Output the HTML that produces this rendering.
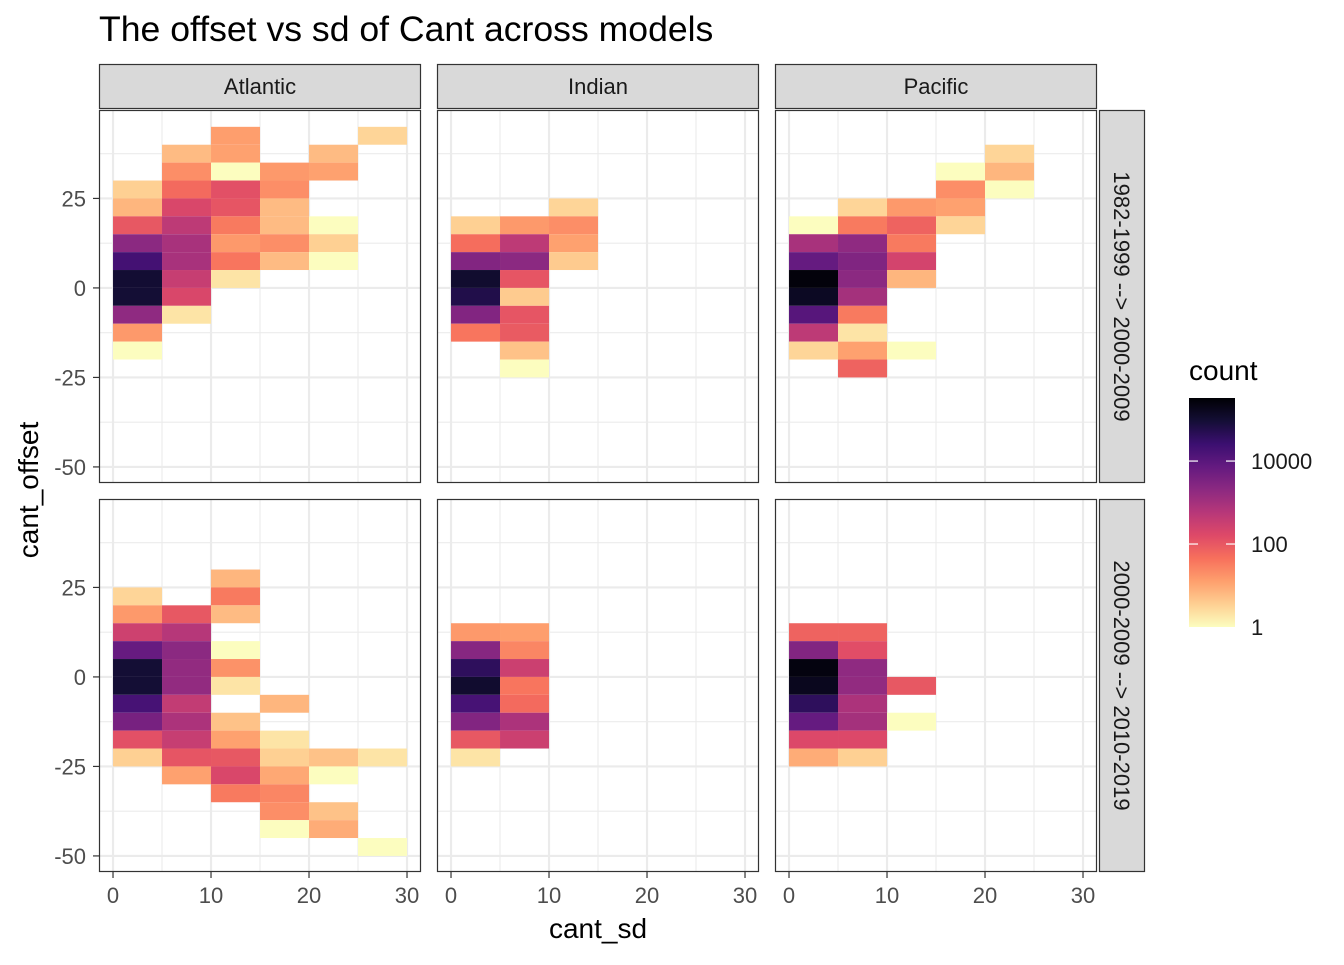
<!DOCTYPE html>
<html><head><meta charset="utf-8"><style>
body{margin:0;background:#fff;}
svg text{font-family:"Liberation Sans",sans-serif;}
</style></head><body>
<svg id="chart" width="1344" height="960" viewBox="0 0 1344 960" xmlns="http://www.w3.org/2000/svg">
<rect width="1344" height="960" fill="#fff"/>
<text x="99" y="41" font-size="35.6" fill="#000">The offset vs sd of Cant across models</text>
<g id="panels"></g>
<text x="598" y="938" font-size="28" text-anchor="middle" fill="#000">cant_sd</text>
<text transform="translate(38,490) rotate(-90)" font-size="28" text-anchor="middle" fill="#000">cant_offset</text>
<g>
<text x="1189" y="380" font-size="28" fill="#000">count</text>
<defs><linearGradient id="lg" x1="0" y1="1" x2="0" y2="0"></linearGradient></defs>
<rect id="legbar" x="1189" y="398" width="46" height="229" fill="url(#lg)"/>
<g id="legticks"></g>
</g>
</svg>
<script>
const colNames = ["Atlantic","Indian","Pacific"];
const rowNames = ["1982-1999 --> 2000-2009","2000-2009 --> 2010-2019"];
const xTicks = [0,10,20,30];
const yTicks = [-50,-25,0,25];
const legendBreaks = [1,100,10000];
const legendLabels = ["1","100","10000"];
const logMax = 5.52;
const binW = 5, binH = 5;
// each cell: [sd bin start, offset bin start, count]
const atlanticTop = [[10,40,13],[25,40,3],[5,35,6],[10,35,12],[20,35,6],[5,30,20],[10,30,1],[15,30,15],[20,30,12],
[0,25,3.5],[5,25,55],[10,25,130],[15,25,20],[0,20,7],[5,20,190],[10,20,110],[15,20,6],
[0,15,100],[5,15,470],[10,15,35],[15,15,6],[20,15,1],[0,10,2100],[5,10,900],[10,10,15],[15,10,20],[20,10,3.5],
[0,5,20000],[5,5,900],[10,5,40],[15,5,6],[20,5,1],[0,0,100000],[5,0,350],[10,0,2],[0,-5,95000],[5,-5,190],
[0,-10,1900],[5,-10,2],[0,-15,15],[0,-20,1]];
const indianTop = [[10,20,3],[0,15,3.5],[5,15,15],[10,15,20],[0,10,50],[5,10,470],[10,10,12],[0,5,2800],[5,5,2100],[10,5,4],
[0,0,110000],[5,0,110],[0,-5,60000],[5,-5,4],[0,-10,2800],[5,-10,110],[0,-15,40],[5,-15,90],[5,-20,5],[5,-25,1]];
const pacificTop = [[20,35,3],[15,30,1],[20,30,7],[15,25,20],[20,25,1],[5,20,3],[10,20,15],[15,20,12],
[0,15,1],[5,15,35],[10,15,70],[15,15,3],[0,10,900],[5,10,1900],[10,10,35],[0,5,7000],[5,5,3000],[10,5,230],
[0,0,280000],[5,0,2100],[10,0,7],[0,-5,150000],[5,-5,1000],[0,-10,11000],[5,-10,35],[0,-15,470],[5,-15,2],
[0,-20,3],[5,-20,12],[10,-20,1],[5,-25,70]];
const atlanticBottom = [[10,25,7],[0,20,3],[10,20,35],[0,15,15],[5,15,100],[10,15,6],[0,10,280],[5,10,600],
[0,5,6700],[5,5,2100],[10,5,1],[0,0,95000],[5,0,1700],[10,0,18],[0,-5,95000],[5,-5,1700],[10,-5,2],
[0,-10,18000],[5,-10,400],[15,-10,7],[0,-15,4000],[5,-15,800],[10,-15,5],[0,-20,130],[5,-20,350],[10,-20,12],[15,-20,2],
[0,-25,3.5],[5,-25,110],[10,-25,100],[15,-25,3.5],[20,-25,5],[25,-25,2],[5,-30,12],[10,-30,190],[15,-30,10],[20,-30,1],
[10,-35,35],[15,-35,25],[15,-40,20],[20,-40,5],[15,-45,1],[20,-45,9],[25,-50,1]];
const indianBottom = [[0,10,15],[5,10,13],[0,5,2400],[5,5,25],[0,0,40000],[5,0,300],[0,-5,110000],[5,-5,40],
[0,-10,18000],[5,-10,55],[0,-15,2800],[5,-15,800],[0,-20,100],[5,-20,300],[0,-25,2]];
const pacificBottom = [[0,10,70],[5,10,70],[0,5,2800],[5,5,140],[0,0,250000],[5,0,1900],[0,-5,170000],[5,-5,1700],[10,-5,100],
[0,-10,40000],[5,-10,800],[0,-15,7000],[5,-15,1000],[10,-15,1],[0,-20,170],[5,-20,170],[0,-25,9],[5,-25,3.5]];
const panelData = [[atlanticTop,indianTop,pacificTop],[atlanticBottom,indianBottom,pacificBottom]];

const magma = ["#000004","#140e36","#3b0f70","#641a80","#8c2981","#b73779","#de4968","#f7705c","#fe9f6d","#fecf92","#fcfdbf"];
function hex2rgb(h){return [parseInt(h.substr(1,2),16),parseInt(h.substr(3,2),16),parseInt(h.substr(5,2),16)];}
function magmaAt(t){t=Math.max(0,Math.min(1,t));const p=t*10,i=Math.min(9,Math.floor(p)),f=p-i;
const a=hex2rgb(magma[i]),b=hex2rgb(magma[i+1]);return "rgb("+a.map((v,k)=>Math.round(v+(b[k]-v)*f)).join(",")+")";}
function colorFor(n){return magmaAt(1-Math.log10(Math.max(1,n))/logMax);}

const NS="http://www.w3.org/2000/svg";
const colLeft=[99,437,775], panelW=322, rowTop=[110,499], panelH=373;
const xMin=-1.43, xPx=9.8, yMax=49.7, yPx=3.58;
function xs(c,v){return colLeft[c]+(v-xMin)*xPx;}
function ys(r,v){return rowTop[r]+(yMax-v)*yPx;}
function mk(tag,attrs,parent){const e=document.createElementNS(NS,tag);for(const k in attrs)e.setAttribute(k,attrs[k]);parent.appendChild(e);return e;}
const root=document.getElementById("panels");

for(let r=0;r<2;r++)for(let c=0;c<3;c++){
  const g=mk("g",{},root);
  
  
  mk("rect",{x:colLeft[c],y:rowTop[r],width:panelW,height:panelH,fill:"#fff"},g);
  [5,15,25].forEach(v=>mk("line",{x1:xs(c,v),x2:xs(c,v),y1:rowTop[r],y2:rowTop[r]+panelH,stroke:"#ebebeb","stroke-width":1.1},g));
  [-37.5,-12.5,12.5,37.5].forEach(v=>mk("line",{x1:colLeft[c],x2:colLeft[c]+panelW,y1:ys(r,v),y2:ys(r,v),stroke:"#ebebeb","stroke-width":1.1},g));
  xTicks.forEach(v=>mk("line",{x1:xs(c,v),x2:xs(c,v),y1:rowTop[r],y2:rowTop[r]+panelH,stroke:"#ebebeb","stroke-width":2.2},g));
  yTicks.forEach(v=>mk("line",{x1:colLeft[c],x2:colLeft[c]+panelW,y1:ys(r,v),y2:ys(r,v),stroke:"#ebebeb","stroke-width":2.2},g));
  panelData[r][c].forEach(d=>{
    const cell=mk("rect",{x:xs(c,d[0]),y:ys(r,d[1]+binH),width:xs(c,d[0]+binW)-xs(c,d[0]),height:ys(r,d[1])-ys(r,d[1]+binH),fill:colorFor(d[2])},g);
    
    
  });
  mk("rect",{x:colLeft[c]+0.5,y:rowTop[r]+0.5,width:panelW-1,height:panelH-1,fill:"none",stroke:"#333","stroke-width":1.2},g);
  if(c===0){yTicks.forEach(v=>{
    mk("line",{x1:colLeft[c]-6,x2:colLeft[c],y1:ys(r,v),y2:ys(r,v),stroke:"#333","stroke-width":1.2},g);
    const t=mk("text",{x:colLeft[c]-13,y:ys(r,v)+8,"font-size":22,"text-anchor":"end",fill:"#4d4d4d"},g);t.textContent=String(v);
    
    
  });}
  if(r===1){xTicks.forEach(v=>{
    mk("line",{x1:xs(c,v),x2:xs(c,v),y1:rowTop[r]+panelH,y2:rowTop[r]+panelH+6,stroke:"#333","stroke-width":1.2},g);
    const t=mk("text",{x:xs(c,v),y:903,"font-size":22,"text-anchor":"middle",fill:"#4d4d4d"},g);t.textContent=String(v);
    
    
  });}
  if(r===0){
    const s=mk("g",{},g);
    
    
    mk("rect",{x:colLeft[c]+0.5,y:64.5,width:panelW-1,height:44,fill:"#d9d9d9",stroke:"#333","stroke-width":1.2},s);
    const t=mk("text",{x:colLeft[c]+panelW/2,y:94,"font-size":22,"text-anchor":"middle",fill:"#1a1a1a"},s);t.textContent=colNames[c];
  }
  if(c===2){
    const s=mk("g",{},g);
    
    
    mk("rect",{x:1099.5,y:rowTop[r]+0.5,width:45,height:panelH-1,fill:"#d9d9d9",stroke:"#333","stroke-width":1.2},s);
    const t=mk("text",{transform:"translate(1114,"+(rowTop[r]+panelH/2)+") rotate(90)","font-size":22,"text-anchor":"middle",fill:"#1a1a1a"},s);t.textContent=rowNames[r];
  }
}
// legend
const lg=document.getElementById("lg");
for(let i=0;i<=10;i++){mk("stop",{offset:(i/10),"stop-color":magmaAt(1-i/10)},lg);}
const lt=document.getElementById("legticks");
const barBottom=627, barH=229;
legendBreaks.forEach((b,i)=>{
  const y=barBottom-Math.log10(b)/logMax*barH;
  if(b>1){
    mk("line",{x1:1189,x2:1198,y1:y,y2:y,stroke:"#fff","stroke-width":1.2},lt);
    mk("line",{x1:1226,x2:1235,y1:y,y2:y,stroke:"#fff","stroke-width":1.2},lt);
  }
  const t=mk("text",{x:1251,y:y+8,"font-size":22,fill:"#1a1a1a"},lt);t.textContent=legendLabels[i];
  
  
});
</script>
</body></html>
